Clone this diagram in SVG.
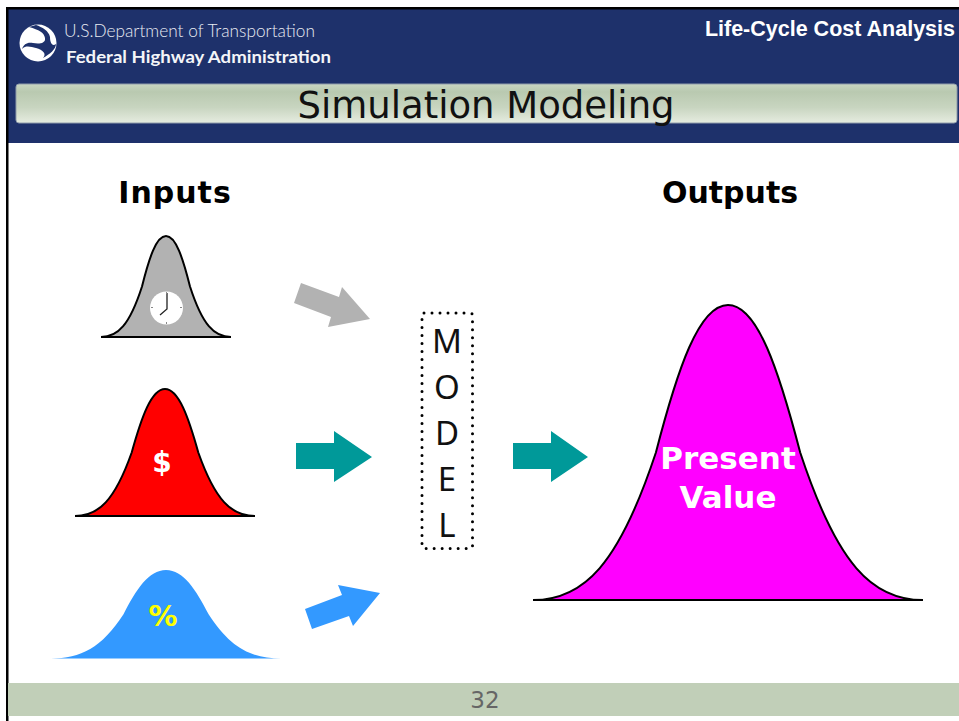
<svg xmlns="http://www.w3.org/2000/svg" width="959" height="721" viewBox="0 0 959 721">
<style>
.v{font-family:"DejaVu Sans",Verdana,sans-serif}
.a{font-family:"Liberation Sans",Arial,sans-serif}
.bell{stroke:#000;stroke-width:2}
.m{font-family:"Noto Sans","DejaVu Sans",sans-serif;font-size:33px;fill:#111;text-anchor:middle}
.h{font-size:30px;font-weight:bold;fill:#000;text-anchor:middle}
</style>
<defs>
<linearGradient id="bar" x1="0" y1="0" x2="0" y2="1"><stop offset="0" stop-color="#c9d6c2"/><stop offset="0.2" stop-color="#b9c9b0"/><stop offset="0.6" stop-color="#c8d5c0"/><stop offset="1" stop-color="#e6ece0"/></linearGradient>
</defs>
<rect width="959" height="721" fill="#fff"/>
<g id="header">
<rect x="8" y="9" width="951" height="134" fill="#1e316b"/>
<rect x="6" y="7" width="953" height="2.500" fill="#000"/>
<rect x="6" y="7" width="2.500" height="714" fill="#000"/>
<rect x="16" y="84" width="941" height="39" rx="3" fill="url(#bar)" stroke="#8f9cab" stroke-width="1"/>
<g id="logo">
<circle cx="38" cy="43" r="18.500" fill="#fff"/>
<path d="M29 27C39 30 44 32 45 38C46 44 38 44 33 43C27 42 24 44 22 49C26 45 31 47 36 48C43 50 47 54 43 58C50 54 56 49 56 44C52 47 50 42 50 37C49 31 42 27 36 25Z" fill="#1e316b"/>
</g>
<text x="64" y="37" textLength="251" lengthAdjust="spacingAndGlyphs" font-family="Lato,sans-serif" font-size="17" font-weight="300" fill="#e8ebf2">U.S.Department of Transportation</text>
<text x="66" y="63" textLength="265" lengthAdjust="spacingAndGlyphs" font-family="Lato,sans-serif" font-size="17" font-weight="bold" fill="#f4f5f8">Federal Highway Administration</text>
<text class="a" x="955" y="36" text-anchor="end" font-size="21.500" font-weight="bold" fill="#fff">Life-Cycle Cost Analysis</text>
<text class="v" x="486" y="118" text-anchor="middle" font-size="37" fill="#111">Simulation Modeling</text>
</g>
<g id="inputs-label"><text class="v h" x="175" y="203" letter-spacing="1">Inputs</text></g>
<g id="outputs-label"><text class="v h" x="730" y="203">Outputs</text></g>
<g id="input-time">
<path class="bell" fill="#b2b2b2" d="M101 337C117.900 337 129.600 324.900 142 286.500C149.100 258.200 156.200 236 166 236C175.800 236 182.900 258.200 190 286.500C202.400 324.900 214.100 337 231 337Z"/>
<circle cx="166.500" cy="308" r="16.500" fill="#fff"/>
<path d="M167 293V309L160 315" fill="none" stroke="#222" stroke-width="1.300"/>
<path d="M166.500 292v2M166.500 322v2M151 307.500h2M180 307.500h2" stroke="#888" stroke-width="1"/>
</g>
<g id="input-cost">
<path class="bell" fill="#ff0000" d="M75 516C98.400 516 114.600 500.800 131.700 452.500C141.600 416.900 151.500 389 165 389C178.500 389 188.400 416.900 198.300 452.500C215.400 500.800 231.600 516 255 516Z"/>
<text class="v" x="162" y="472" text-anchor="middle" font-size="28" font-weight="bold" fill="#fff">$</text>
</g>
<g id="input-rate">
<path fill="#3399ff" d="M51 658.500C80.900 658.500 101.600 647.900 123.500 614.300C136.100 589.500 148.800 570 166 570C183.300 570 195.900 589.500 208.600 614.300C230.400 647.900 251.100 658.500 281 658.500Z"/>
<text class="v" x="163" y="626" text-anchor="middle" font-size="29" font-weight="bold" fill="#ffff00">%</text>
</g>
<g id="model">
<rect x="422" y="313" width="50.500" height="235.500" rx="2" fill="none" stroke="#000" stroke-width="3" stroke-linecap="round" stroke-dasharray="0 8"/>
<text class="m" x="447" y="353">M</text>
<text class="m" x="447" y="399">O</text>
<text class="m" x="447" y="445">D</text>
<text class="m" x="447" y="491">E</text>
<text class="m" x="447" y="537">L</text>
</g>
<g id="output-value">
<path class="bell" fill="#ff00ff" d="M533 600C583.700 600 618.800 564.600 655.900 452.500C677.300 369.900 698.800 305 728 305C757.300 305 778.700 369.900 800.200 452.500C837.200 564.600 872.300 600 923 600Z"/>
<text class="v" font-size="31" font-weight="bold" fill="#fff" text-anchor="middle"><tspan x="728" y="469">Present</tspan><tspan x="728" y="508">Value</tspan></text>
</g>
<g id="connectors">
<polygon points="301,283 339,297 342,287 370,319 328,327 331,317 294,303" fill="#b2b2b2"/>
<polygon points="296,443 334,443 334,431 372,457 334,482 334,469 296,469" fill="#009999"/>
<polygon points="513,443 551,443 551,431 588,457 551,482 551,469 513,469" fill="#009999"/>
<polygon points="305,609 342,595 338,585 380,593 353,626 349,616 312,629" fill="#3399ff"/>
</g>
<g id="footer">
<rect x="8" y="683" width="951" height="33" fill="#c1cfb8"/>
<text class="v" x="485" y="708" text-anchor="middle" font-size="23" fill="#666">32</text>
</g>
</svg>
